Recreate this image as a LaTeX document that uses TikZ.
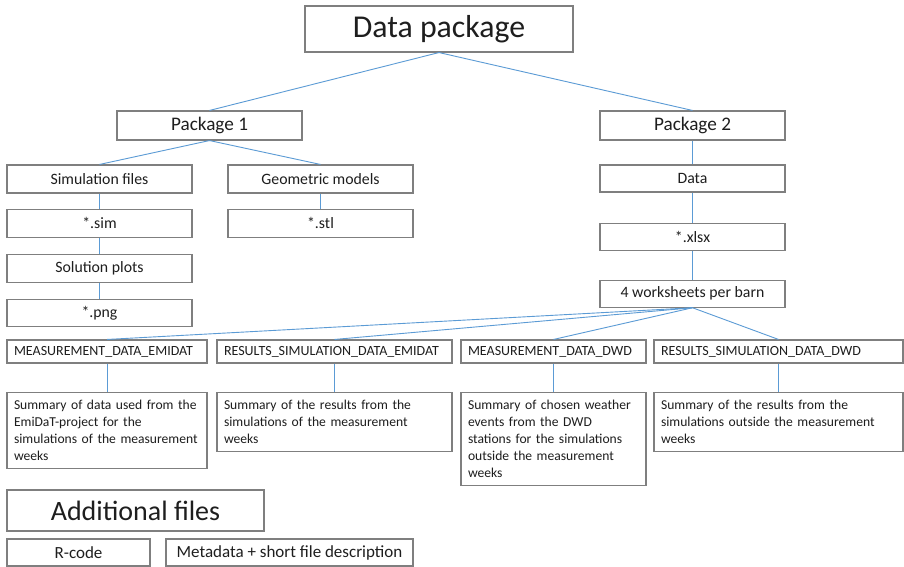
\documentclass[tikz,border=0pt]{standalone}
\usepackage{fontspec}
\setmainfont{Carlito}
\usepackage{xcolor}
\usepackage{tikz}
\usetikzlibrary{positioning}
\definecolor{lnblue}{HTML}{5B9BD5}
\definecolor{bxgray}{HTML}{7F7F7F}
\definecolor{txdark}{HTML}{1E1E1E}

\begin{document}
\begin{tikzpicture}[
  x=1pt, y=-1pt,
  node distance=15pt,
  bx/.style={draw=bxgray, line width=1.1pt, fill=white, inner sep=0pt, minimum width=185pt, minimum height=28pt, font=\fontsize{15.8pt}{19pt}\selectfont\color{txdark}},
  pkg/.style={bx, minimum height=29pt, font=\fontsize{19.2pt}{23pt}\selectfont\color{txdark}},
  sheet/.style={draw=bxgray, line width=1.1pt, fill=white, inner xsep=7pt, inner ysep=0pt, minimum height=23pt, align=left, font=\fontsize{14pt}{17pt}\selectfont\color{txdark}},
  summ/.style={draw=bxgray, line width=1.1pt, fill=white, inner xsep=7pt, inner ysep=7.5pt, align=left, anchor=north, font=\fontsize{13.6pt}{17pt}\selectfont\color{txdark}},
  con/.style={draw=lnblue, line width=0.9pt}
]
\fill[white] (0,0) rectangle (904,567);
\useasboundingbox (0,0) rectangle (904,567);

% top level
\node[bx, minimum width=268pt, minimum height=46pt, font=\fontsize{31.8pt}{36pt}\selectfont\color{txdark}] (dpkg) at (439,29) {Data package};
\node[pkg] (pk1) at (209.5,125.5) {Package 1};
\node[pkg] (pk2) at (692.5,125.5) {Package 2};

% package 1
\node[bx] (simf) at (99.5,179) {Simulation files};
\node[bx] (geom) at (320.5,179) {Geometric models};
\node[bx, below=of simf] (sim) {*.sim};
\node[bx, below=of geom] (stl) {*.stl};
\node[bx, below=16pt of sim] (sol) {Solution plots};
\node[bx, below=16pt of sol, minimum height=27pt] (png) {*.png};

% package 2
\node[bx, minimum height=27pt] (data) at (692.5,178.5) {Data};
\node[bx, below=30pt of data, minimum height=27pt] (xlsx) {*.xlsx};
\node[bx, below=29pt of xlsx, minimum height=27pt] (ws) {4 worksheets per barn};

% worksheets
\node[sheet, text width=186pt] (meaemi) at (107,351.5) {MEASUREMENT\_DATA\_EMIDAT};
\node[sheet, text width=221pt] (resemi) at (334.5,351.5) {RESULTS\_SIMULATION\_DATA\_EMIDAT};
\node[sheet, text width=171pt] (meadwd) at (553.5,351.5) {MEASUREMENT\_DATA\_DWD};
\node[sheet, text width=235pt] (resdwd) at (778.5,351.5) {RESULTS\_SIMULATION\_DATA\_DWD};

\node[summ, text width=186pt] (sumemi) at (107,392) {Summary of data used from the\\EmiDaT-project for the\\simulations of the measurement\\weeks};
\node[summ, text width=221pt] (sumresemi) at (334.5,392) {Summary of the results from the\\simulations of the measurement\\weeks};
\node[summ, text width=171pt] (sumdwd) at (553.5,392) {Summary of chosen weather\\events from the DWD\\stations for the simulations\\outside the measurement\\weeks};
\node[summ, text width=235pt] (sumresdwd) at (778.5,392) {Summary of the results from the\\simulations outside the measurement\\weeks};

% additional files
\node[bx, minimum width=257pt, minimum height=41pt, font=\fontsize{28pt}{33pt}\selectfont\color{txdark}] (addf) at (135.5,510.5) {Additional files};
\node[bx, minimum width=143pt, minimum height=27pt, font=\fontsize{17pt}{20pt}\selectfont\color{txdark}] (rcode) at (78.5,552.5) {R-code};
\node[bx, minimum width=247pt, minimum height=27pt, font=\fontsize{17pt}{20pt}\selectfont\color{txdark}] (meta) at (289.5,552.5) {Metadata + short file description};

% connectors
\draw[con] (dpkg.south) -- (pk1.north);
\draw[con] (dpkg.south) -- (pk2.north);
\draw[con] (pk1.south) -- (simf.north);
\draw[con] (pk1.south) -- (geom.north);
\draw[con] (simf) -- (sim); \draw[con] (sim) -- (sol); \draw[con] (sol) -- (png);
\draw[con] (geom) -- (stl);
\draw[con] (pk2) -- (data); \draw[con] (data) -- (xlsx); \draw[con] (xlsx) -- (ws);
\foreach \s in {meaemi,resemi,meadwd,resdwd}
  \draw[con] (ws.south) -- (\s.north);
\draw[con] (meaemi) -- (sumemi);
\draw[con] (resemi) -- (sumresemi);
\draw[con] (meadwd) -- (sumdwd);
\draw[con] (resdwd) -- (sumresdwd);
\end{tikzpicture}
\end{document}
